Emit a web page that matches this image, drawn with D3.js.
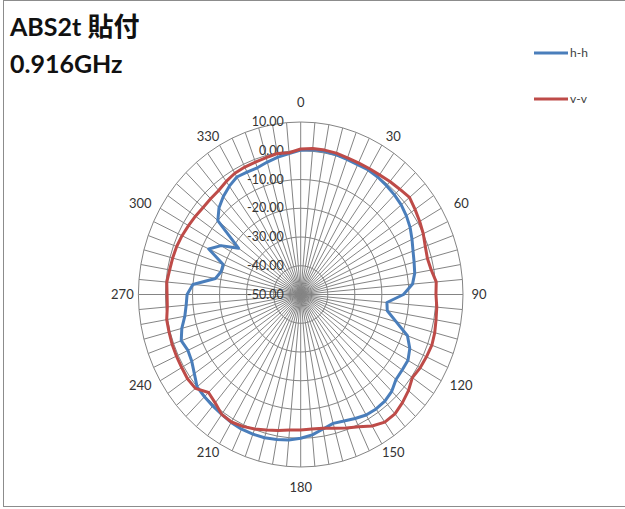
<!DOCTYPE html>
<html><head><meta charset="utf-8">
<script src="https://cdn.jsdelivr.net/npm/d3@7"></script>
<style>
html,body{margin:0;padding:0;background:#fff;}
svg{display:block;}
</style></head>
<body>
<svg id="chart" width="625" height="509"></svg>
<script>
// ---- data ----
const angles = [0,5,10,15,20,25,30,35,40,45,50,55,60,65,70,75,80,85,90,95,100,105,110,115,
  120,125,130,135,140,145,150,155,160,165,170,175,180,185,190,195,200,205,210,215,220,225,230,235,
  240,245,250,255,260,265,270,275,280,285,290,295,300,305,310,315,320,325,330,335,340,345,350,355];
const hh = [0.2,0.5,0.6,0.4,0.0,-0.2,0.0,-0.2,-0.6,-1.0,-1.5,-2.3,-3.3,-4.6,-5.8,-6.6,-7.2,-8.5,
  -12.0,-18.0,-17.5,-13.5,-8.0,-5.5,-4.2,-4.2,-4.0,-2.4,-1.6,-1.4,-1.6,-2.4,-3.2,-3.6,-2.5,-1.0,
  0.0,0.8,1.2,1.6,1.7,1.7,1.4,0.9,0.6,0.3,0.0,-2.0,-3.5,-4.0,-3.0,-4.5,-6.5,-7.5,-8.0,-10.0,
  -18.0,-19.5,-19.5,-12.5,-16.0,-22.0,-10.0,-7.3,-5.5,-4.0,-2.8,-3.0,-3.1,-2.3,-1.5,-0.8];
const vv = [0.6,1.0,1.0,0.9,0.6,0.5,0.6,0.8,1.3,1.8,2.5,1.6,0.8,0.0,-1.0,-1.5,-1.0,0.3,
  0.0,0.5,0.8,1.3,1.6,1.3,1.0,0.4,2.0,3.2,4.2,4.2,2.8,0.8,-0.6,-1.8,-2.8,-3.0,
  -2.9,-2.7,-2.0,-1.2,-0.2,0.6,1.2,0.9,-0.8,-1.8,0.8,1.1,0.8,0.7,0.6,0.4,0.3,-0.5,
  -0.6,-0.3,-0.8,-1.0,-1.2,-1.6,-2.1,-2.5,-2.9,-2.9,-2.8,-2.0,-1.3,-1.1,-1.0,-0.7,-0.2,-0.5];
const ringValues = [10,0,-10,-20,-30,-40];
const ringLabels = ["10.00","0.00","-10.00","-20.00","-30.00","-40.00","-50.00"];
const labelValues = [10,0,-10,-20,-30,-40,-50];
const angleTicks = [0,30,60,90,120,150,180,210,240,270,300,330];
const seriesNames = ["h-h","v-v"];
const seriesColors = ["#4a7ebb","#be4b48"];

// ---- layout ----
const svg = d3.select("#chart");
const cx = 300.7, cy = 294.5, rx = 162.3, ry = 172.5;
const r = d3.scaleLinear().domain([-50,10]).range([0,1]);
const a = d3.scaleLinear().domain([0,360]).range([0,2*Math.PI]);
const px = (deg,val) => cx + rx*r(val)*Math.sin(a(deg));
const py = (deg,val) => cy - ry*r(val)*Math.cos(a(deg));

// border
svg.append("rect").attr("x",3.5).attr("y",0.5).attr("width",640).attr("height",506)
  .attr("fill","none").attr("stroke","#8c8c8c").attr("stroke-width",1);

const grid = svg.append("g");
// spokes
grid.selectAll("line.spoke").data(angles).enter().append("line")
  .attr("x1",cx).attr("y1",cy)
  .attr("x2",d=>px(d,10)).attr("y2",d=>py(d,10))
  .attr("stroke","#848484").attr("stroke-width",1);
// rings (polygons like Excel radar)
const ringLine = d3.line().x(d=>d[0]).y(d=>d[1]).curve(d3.curveLinearClosed);
grid.selectAll("path.ring").data(ringValues).enter().append("path")
  .attr("d",v=>ringLine(angles.map(t=>[px(t,v),py(t,v)])))
  .attr("fill","none").attr("stroke","#848484").attr("stroke-width",1);

// value labels
svg.selectAll("text.vl").data(labelValues).enter().append("text")
  .attr("x",cx-17).attr("y",v=>py(0,v)+4)
  .attr("text-anchor","end")
  .attr("font-family","Lato, 'Open Sans', sans-serif").attr("font-size",12.5)
  .attr("fill","#333").text((v,i)=>ringLabels[i]);

// angle labels
const onAxis = d => d % 90 === 0;
svg.selectAll("text.al").data(angleTicks).enter().append("text")
  .attr("x",d=>cx+(rx+(onAxis(d)?16:23))*Math.sin(a(d)))
  .attr("y",d=>cy-(ry+(onAxis(d)?20:10))*Math.cos(a(d))+4.5)
  .attr("text-anchor","middle")
  .attr("font-family","Lato, 'Open Sans', sans-serif").attr("font-size",13)
  .attr("fill","#333").text(d=>String(d));

// series
const seriesLine = d3.line().x(d=>d[0]).y(d=>d[1]).curve(d3.curveLinearClosed);
[hh,vv].forEach((vals,i)=>{
  svg.append("path")
    .attr("d",seriesLine(angles.map((t,j)=>[px(t,vals[j]),py(t,vals[j])])))
    .attr("fill","none").attr("stroke",seriesColors[i]).attr("stroke-width",3)
    .attr("stroke-linejoin","round");
});

// legend
const legY = [53,99];
seriesNames.forEach((n,i)=>{
  svg.append("line").attr("x1",534).attr("x2",568).attr("y1",legY[i]).attr("y2",legY[i])
    .attr("stroke",seriesColors[i]).attr("stroke-width",3);
  svg.append("text").attr("x",570).attr("y",legY[i]+4)
    .attr("font-family","Lato, 'Open Sans', sans-serif").attr("font-size",12)
    .attr("fill","#404040").text(n);
});

// title
const title = svg.append("text").attr("font-family","Lato, 'Noto Sans CJK JP', sans-serif")
  .attr("font-weight","bold").attr("font-size",25).attr("fill","#111");
const l1 = title.append("tspan").attr("x",10).attr("y",36);
l1.append("tspan").text("ABS2t ");
l1.append("tspan").attr("font-family","'Noto Sans CJK JP', sans-serif").attr("font-size",26).text("貼付");
title.append("tspan").attr("x",10).attr("y",73).text("0.916GHz");
</script>
</body></html>
